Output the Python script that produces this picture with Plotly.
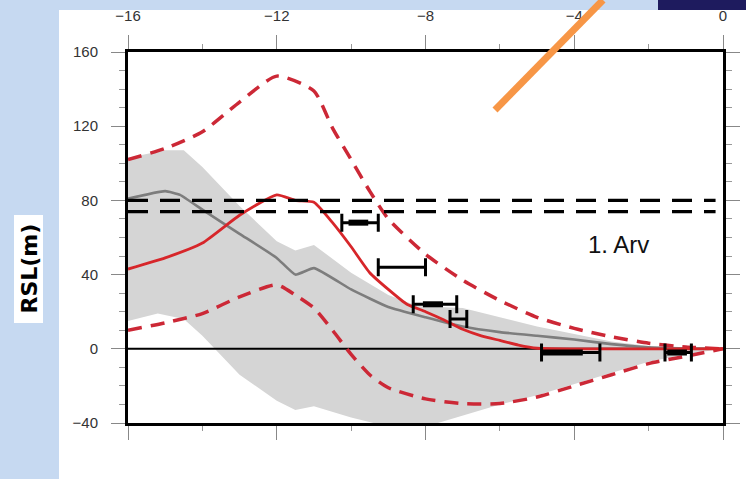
import plotly.graph_objects as go

# ---- data (time in kyr BP, relative sea level in m) ----
band_x_upper = [-16, -15, -14.5, -14, -13, -12, -11.5, -11, -10, -9, -8.2, -7, -6, -5, -4, -3, -2, -1, 0]
band_y_upper = [103, 107, 107, 98, 77, 58, 53, 56, 41, 29, 23, 22, 17, 12, 8, 4, 1.5, 0.3, 0]
band_x_lower = [-16, -15.2, -14.5, -14, -13, -12, -11.5, -11, -10, -9.4, -8, -7.3, -6, -5, -4, -3, -2, -1, 0]
band_y_lower = [15, 19, 16, 7, -14, -28, -33, -31, -37, -40, -42, -38, -30, -25, -19, -13, -7, -3, 0]

mean_x = [-16, -15, -14.6, -14, -13, -12, -11.5, -11, -10, -9, -8, -7, -6, -5, -4, -3, -2, -1, 0]
mean_y = [81, 85, 83, 75, 62, 49, 40, 43.5, 32, 22.5, 17, 12, 9, 7, 5, 2.5, 0.8, 0.2, 0]

model_x = [-16, -15, -14, -13, -12, -11.5, -11, -10.5, -10, -9.5, -9, -8.5, -8, -7.5, -7, -6.5, -6, -5.5, -5, -4, -2, 0]
model_y = [43, 49, 57, 72, 83, 80, 79, 68, 55, 41, 32, 24, 20, 15.5, 10.5, 7, 4.5, 2, 0.3, 0, 0, 0]

upper_x = [-16, -15, -14, -13, -12, -11, -10.5, -10, -9.5, -9, -8, -7, -6, -5, -4, -3, -2, -1, 0]
upper_y = [102, 108, 117, 133, 147, 139, 119, 102, 85, 70, 51, 37, 26, 17, 11, 6.5, 3, 1, 0]

lower_x = [-16, -15, -14, -13, -12, -11.5, -11, -10.5, -10, -9.5, -9, -8, -7, -6, -5, -4, -3, -2, -1, 0]
lower_y = [10, 14, 19, 28, 34.5, 29, 22, 10, -3, -14, -21, -27, -29.5, -29.5, -26, -20, -14, -8, -4, 0]

threshold_levels = [80, 74]
threshold_x = [-16, -0.2]

# sea-level index points: age ranges and elevations
obs_lo = [-10.25, -9.27, -8.33, -7.34, -4.88, -1.56]
obs_hi = [-9.27, -8.0, -7.16, -6.89, -3.31, -0.85]
obs_y = [68, 44, 24, 16, -2, -2]
core_lo = [-10.07, -8.07, -4.84, -1.5]
core_hi = [-9.54, -7.53, -3.77, -0.97]
core_y = [68, 24, -2, -2]

x_ticks = [-16, -12, -8, -4, 0]
x_ticktext = ["\u221216", "\u221212", "\u22128", "\u22124", "0"]
y_ticks = [-40, 0, 40, 80, 120, 160]
y_ticktext = ["\u221240", "0", "40", "80", "120", "160"]

site_label = "1. Arv"
y_title = "RSL(m)"

# ---- figure geometry (pixels) ----
W, H = 746, 479
L, R, T, B = 128, 723, 52, 423


def px(x):
    return (x - L) / (R - L)


def py(y):
    return (B - y) / (B - T)


fig = go.Figure()

# uncertainty envelope
fig.add_trace(go.Scatter(
    x=band_x_upper + band_x_lower[::-1],
    y=band_y_upper + band_y_lower[::-1],
    fill="toself", fillcolor="#d5d5d5", line=dict(width=0),
    mode="lines", hoverinfo="skip", showlegend=False))

# zero line
fig.add_trace(go.Scatter(x=[-16, 0], y=[0, 0], mode="lines",
                         line=dict(color="black", width=2), showlegend=False))

# ensemble mean
fig.add_trace(go.Scatter(x=mean_x, y=mean_y, mode="lines",
                         line=dict(color="#7d7d7d", width=2.6, shape="spline", smoothing=0.4),
                         showlegend=False))

# model bounds
fig.add_trace(go.Scatter(x=upper_x, y=upper_y, mode="lines",
                         line=dict(color="#cc2836", width=3.5, dash="14px,9px", shape="spline", smoothing=0.6),
                         showlegend=False))
fig.add_trace(go.Scatter(x=lower_x, y=lower_y, mode="lines",
                         line=dict(color="#cc2836", width=3.5, dash="14px,9px", shape="spline", smoothing=0.6),
                         showlegend=False))

# best-fit model
fig.add_trace(go.Scatter(x=model_x, y=model_y, mode="lines",
                         line=dict(color="#d7262a", width=2.8, shape="spline", smoothing=0.5),
                         showlegend=False))

# threshold levels
for lvl in threshold_levels:
    fig.add_trace(go.Scatter(x=threshold_x, y=[lvl, lvl], mode="lines",
                             line=dict(color="black", width=3.2, dash="20px,12px"),
                             showlegend=False))

# index points with age ranges
obs_mid = [(a + b) / 2 for a, b in zip(obs_lo, obs_hi)]
obs_err = [(b - a) / 2 for a, b in zip(obs_lo, obs_hi)]
fig.add_trace(go.Scatter(
    x=obs_mid, y=obs_y, mode="markers", marker=dict(size=1, color="black"),
    error_x=dict(type="data", array=obs_err, symmetric=True, color="black",
                 thickness=3, width=9),
    showlegend=False))

cx, cy = [], []
for a, b, yv in zip(core_lo, core_hi, core_y):
    cx += [a, b, None]
    cy += [yv, yv, None]
fig.add_trace(go.Scatter(x=cx, y=cy, mode="lines",
                         line=dict(color="black", width=6), showlegend=False))

# slide panel and decorations (kept inside the page so margins stay fixed)
shapes = [
    dict(type="rect", xref="paper", yref="paper", layer="below",
         x0=px(59), x1=px(W), y0=py(H), y1=py(10),
         fillcolor="white", line=dict(width=0)),
    dict(type="rect", xref="paper", yref="paper", layer="above",
         x0=px(658), x1=px(W), y0=py(10), y1=py(0),
         fillcolor="#1e1b5e", line=dict(width=0)),
    dict(type="rect", xref="paper", yref="paper", layer="above",
         x0=px(14), x1=px(43), y0=py(323), y1=py(215),
         fillcolor="white", line=dict(width=0)),
    dict(type="line", xref="paper", yref="paper", layer="above",
         x0=px(495), y0=py(110), x1=px(603), y1=py(0),
         line=dict(color="#f79646", width=7)),
]

annotations = [
    dict(xref="paper", yref="paper", x=px(28.5), y=py(269), text=f"<b>{y_title}</b>",
         textangle=-90, showarrow=False, xanchor="center", yanchor="middle",
         font=dict(family="DejaVu Sans", size=22, color="black")),
    dict(x=-2.82, y=56, xref="x", yref="y", text=site_label, showarrow=False,
         xanchor="center", yanchor="middle",
         font=dict(family="Liberation Sans", size=24, color="#111111")),
]

fig.update_layout(
    width=W, height=H,
    margin=dict(l=L, r=W - R, t=T, b=H - B, autoexpand=False),
    paper_bgcolor="#c6d9f1", plot_bgcolor="white",
    shapes=shapes, annotations=annotations,
    font=dict(family="Liberation Sans", color="#333333"),
    showlegend=False,
)

fig.update_xaxes(
    range=[-16, 0], side="top", showgrid=False, zeroline=False, automargin=False,
    showline=True, linecolor="black", linewidth=3, mirror="allticks",
    tickmode="array", tickvals=x_ticks, ticktext=x_ticktext,
    ticks="outside", ticklen=14, tickwidth=1.3, tickcolor="#888888",
    ticklabelstandoff=8, tickfont=dict(size=15, color="#333333"),
    minor=dict(ticks="outside", ticklen=5, tickwidth=1.2, tickcolor="#999999", dtick=2, tick0=0),
)
fig.update_yaxes(
    range=[-40, 160], showgrid=False, zeroline=False, automargin=False,
    showline=True, linecolor="black", linewidth=3, mirror="allticks",
    tickmode="array", tickvals=y_ticks, ticktext=y_ticktext,
    ticks="outside", ticklen=14, tickwidth=1.3, tickcolor="#888888",
    ticklabelstandoff=10, tickfont=dict(size=15, color="#333333"),
    minor=dict(ticks="outside", ticklen=6, tickwidth=1.2, tickcolor="#999999", dtick=10, tick0=0),
)

fig.write_html("out.html")
